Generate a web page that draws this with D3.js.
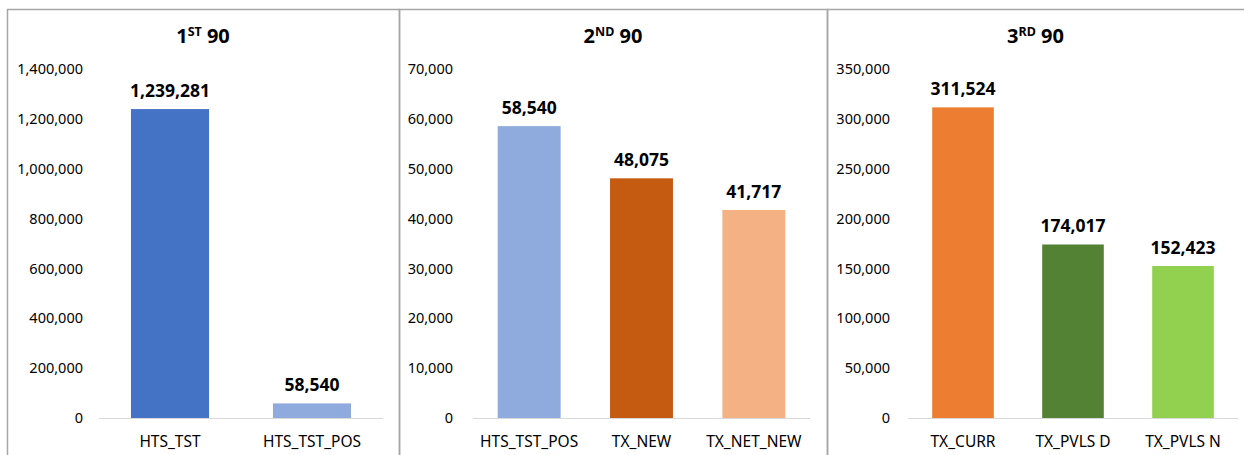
<!DOCTYPE html>
<html>
<head>
<meta charset="utf-8">
<script src="https://cdn.jsdelivr.net/npm/d3@7"></script>
<style>
  body { margin: 0; background: #fff; }
  text { font-family: "Noto Sans", "Open Sans", sans-serif; fill: #000; }
  .catLabel { font-size: 15.5px; }
  .valueLabel { font-size: 17.5px; font-weight: bold; }
  .panelTitle { font-size: 20px; font-weight: bold; }
</style>
</head>
<body>
<div id="chart"></div>
<script>

// panel titles
const titleNumbers = ["1", "2", "3"]
const titleSups = ["ST", "ND", "RD"]

// 1st 90
const cats1 = ["HTS_TST", "HTS_TST_POS"]
const values1 = [1239281, 58540]
const colours1 = ["#4472C4", "#8FAADC"]
const ticks1 = [0, 200000, 400000, 600000, 800000, 1000000, 1200000, 1400000]

// 2nd 90
const cats2 = ["HTS_TST_POS", "TX_NEW", "TX_NET_NEW"]
const values2 = [58540, 48075, 41717]
const colours2 = ["#8FAADC", "#C55A11", "#F4B183"]
const ticks2 = [0, 10000, 20000, 30000, 40000, 50000, 60000, 70000]

// 3rd 90
const cats3 = ["TX_CURR", "TX_PVLS D", "TX_PVLS N"]
const values3 = [311524, 174017, 152423]
const colours3 = ["#ED7D31", "#548235", "#92D050"]
const ticks3 = [0, 50000, 100000, 150000, 200000, 250000, 300000, 350000]

const width = 1244
const height = 455

// layout of the three panels (box edges and plot area)
const panels = [
  { cats: cats1, values: values1, colours: colours1, ticks: ticks1, boxX: [7, 399], plotX: [99, 383], pad: 0.45, tickPad: 16 },
  { cats: cats2, values: values2, colours: colours2, ticks: ticks2, boxX: [399, 827], plotX: [473, 810], pad: 0.44, tickPad: 20 },
  { cats: cats3, values: values3, colours: colours3, ticks: ticks3, boxX: [827, 1252], plotX: [908, 1238], pad: 0.44, tickPad: 18 }
]

const plotTop = 69
const plotBottom = 418
const fmt = d3.format(",")

var svg = d3.select("#chart")
  .append("svg")
  .attr("width", width)
  .attr("height", height)

panels.forEach(function (p, i) {

  var g = svg.append("g")

  // panel frame
  g.append("rect")
    .attr("x", p.boxX[0] + 0.5)
    .attr("y", 9.5)
    .attr("width", p.boxX[1] - p.boxX[0])
    .attr("height", 460)
    .attr("fill", "none")
    .attr("stroke", "#A6A6A6")
    .attr("stroke-width", 1.5)

  var x = d3.scaleBand()
    .domain(p.cats)
    .range(p.plotX)
    .paddingInner(p.pad)
    .paddingOuter(p.pad / 2)

  var y = d3.scaleLinear()
    .domain([0, d3.max(p.ticks)])
    .range([plotBottom, plotTop])

  // y axis, labels only
  var yAxis = g.append("g")
    .attr("transform", "translate(" + p.plotX[0] + ",0)")
    .call(d3.axisLeft(y).tickValues(p.ticks).tickFormat(fmt).tickSize(0).tickPadding(p.tickPad))
  yAxis.select(".domain").remove()
  yAxis.selectAll("text")
    .attr("fill", "#000")
    .style("font-size", "14.5px")
    .style("font-family", "'Noto Sans', sans-serif")

  // baseline
  g.append("line")
    .attr("x1", p.plotX[0])
    .attr("x2", p.plotX[1])
    .attr("y1", y(0) + 0.5)
    .attr("y2", y(0) + 0.5)
    .attr("stroke", "#D9D9D9")
    .attr("stroke-width", 1)

  // bars
  g.selectAll(".bar")
    .data(p.values)
    .enter()
    .append("rect")
    .attr("class", "bar")
    .attr("x", (d, j) => x(p.cats[j]))
    .attr("width", x.bandwidth())
    .attr("y", d => y(d))
    .attr("height", d => y(0) - y(d))
    .attr("fill", (d, j) => p.colours[j])

  // value labels
  g.selectAll(".valueLabel")
    .data(p.values)
    .enter()
    .append("text")
    .attr("class", "valueLabel")
    .attr("text-anchor", "middle")
    .attr("x", (d, j) => x(p.cats[j]) + x.bandwidth() / 2)
    .attr("y", d => y(d) - 12)
    .text(d => fmt(d))

  // category labels
  g.selectAll(".catLabel")
    .data(p.cats)
    .enter()
    .append("text")
    .attr("class", "catLabel")
    .attr("text-anchor", "middle")
    .attr("x", d => x(d) + x.bandwidth() / 2)
    .attr("y", 447)
    .text(d => d)

  // title with superscript
  var cx = (p.boxX[0] + Math.min(p.boxX[1], width)) / 2
  var title = g.append("text")
    .attr("class", "panelTitle")
    .attr("text-anchor", "middle")
    .attr("x", cx)
    .attr("y", 43)
  title.append("tspan").text(titleNumbers[i])
  title.append("tspan")
    .attr("dy", -7)
    .style("font-size", "12.5px")
    .text(titleSups[i])
  title.append("tspan")
    .attr("dy", 7)
    .text(" 90")

})

</script>
</body>
</html>
